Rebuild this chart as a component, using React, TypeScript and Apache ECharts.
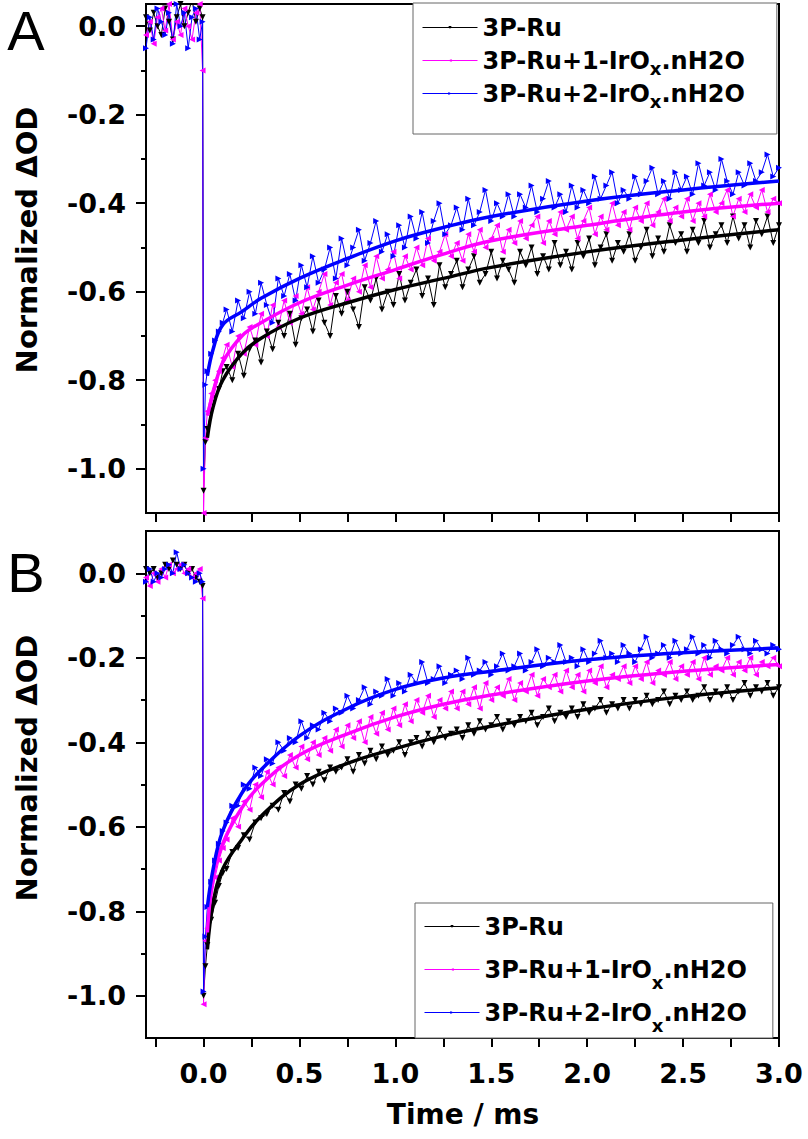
import React, { useEffect, useRef } from 'react';
import * as echarts from 'echarts';

// time grid (ms)
const TIME = [
  -0.30, -0.28, -0.26, -0.24, -0.22, -0.20, -0.18, -0.16, -0.14, -0.12, -0.10, -0.08, -0.06, -0.04, -0.02, -0.005,
  0, 0.01, 0.02, 0.04, 0.06, 0.08, 0.10,
  0.12, 0.15, 0.18, 0.21, 0.24, 0.27, 0.30, 0.33, 0.36, 0.39,
  0.42, 0.45, 0.48, 0.51, 0.54, 0.57, 0.60, 0.63, 0.66, 0.69,
  0.72, 0.75, 0.78, 0.81, 0.84, 0.87, 0.90, 0.93, 0.96, 0.99,
  1.02, 1.05, 1.08, 1.11, 1.14, 1.17, 1.20, 1.23, 1.26, 1.29,
  1.32, 1.35, 1.38, 1.41, 1.44, 1.47, 1.50, 1.53, 1.56, 1.59,
  1.62, 1.65, 1.68, 1.71, 1.74, 1.77, 1.80, 1.83, 1.86, 1.89,
  1.92, 1.95, 1.98, 2.01, 2.04, 2.07, 2.10, 2.13, 2.16, 2.19,
  2.22, 2.25, 2.28, 2.31, 2.34, 2.37, 2.40, 2.43, 2.46, 2.49,
  2.52, 2.55, 2.58, 2.61, 2.64, 2.67, 2.70, 2.73, 2.76, 2.79,
  2.82, 2.85, 2.88, 2.91, 2.94, 2.97, 3.00,
];

// Panel A raw data
const A_RU = [
  0.02, -0.01, 0.03, 0.00, -0.02, 0.04, 0.01, -0.03, 0.02, 0.05, 0.00, 0.03, 0.06, 0.01, 0.04, 0.02,
  -1.05, -0.94, -0.91, -0.87, -0.84, -0.82, -0.78,
  -0.77, -0.80, -0.74, -0.79, -0.73, -0.71, -0.76, -0.69, -0.73, -0.67,
  -0.70, -0.65, -0.72, -0.66, -0.64, -0.69, -0.62, -0.67, -0.70, -0.61,
  -0.65, -0.60, -0.64, -0.68, -0.59, -0.62, -0.57, -0.64, -0.60, -0.63,
  -0.56, -0.62, -0.58, -0.55, -0.61, -0.57, -0.63, -0.54, -0.59, -0.56,
  -0.53, -0.59, -0.55, -0.52, -0.58, -0.56, -0.51, -0.57, -0.53, -0.55,
  -0.58, -0.51, -0.54, -0.50, -0.56, -0.52, -0.55, -0.49, -0.54, -0.51,
  -0.55, -0.49, -0.52, -0.48, -0.54, -0.50, -0.47, -0.53, -0.49, -0.51,
  -0.47, -0.53, -0.50, -0.46, -0.52, -0.48, -0.51, -0.45, -0.49, -0.47,
  -0.51, -0.46, -0.49, -0.44, -0.50, -0.47, -0.45, -0.49, -0.43, -0.48,
  -0.45, -0.50, -0.44, -0.47, -0.43, -0.49, -0.45,
];
const A_RU1 = [
  -0.02, 0.01, -0.04, 0.02, 0.04, -0.01, 0.05, -0.03, 0.01, -0.02, 0.04, 0.00, -0.03, 0.03, 0.05, -0.10,
  -1.10, -0.93, -0.87, -0.83, -0.80, -0.78, -0.75,
  -0.72, -0.77, -0.70, -0.74, -0.68, -0.72, -0.65, -0.70, -0.63, -0.68,
  -0.62, -0.67, -0.61, -0.65, -0.59, -0.64, -0.60, -0.56, -0.63, -0.58,
  -0.56, -0.62, -0.57, -0.60, -0.54, -0.59, -0.52, -0.57, -0.55, -0.51,
  -0.57, -0.52, -0.55, -0.50, -0.54, -0.48, -0.53, -0.51, -0.47, -0.52,
  -0.49, -0.53, -0.47, -0.51, -0.46, -0.50, -0.48, -0.45, -0.51, -0.46,
  -0.49, -0.44, -0.48, -0.45, -0.43, -0.49, -0.44, -0.47, -0.42, -0.46,
  -0.43, -0.48, -0.44, -0.41, -0.47, -0.43, -0.46, -0.40, -0.45, -0.42,
  -0.46, -0.41, -0.44, -0.40, -0.45, -0.42, -0.39, -0.44, -0.41, -0.43,
  -0.39, -0.44, -0.40, -0.43, -0.38, -0.42, -0.40, -0.37, -0.43, -0.39,
  -0.42, -0.38, -0.41, -0.37, -0.42, -0.39, -0.40,
];
const A_RU2 = [
  -0.05, 0.02, -0.03, 0.04, 0.01, -0.02, 0.03, -0.04, 0.05, 0.00, 0.03, -0.05, 0.02, 0.04, -0.03, 0.01,
  -1.00, -0.81, -0.78, -0.74, -0.71, -0.69, -0.67,
  -0.64, -0.69, -0.62, -0.66, -0.60, -0.65, -0.58, -0.63, -0.67, -0.57,
  -0.61, -0.56, -0.62, -0.54, -0.59, -0.52, -0.58, -0.55, -0.50, -0.57,
  -0.48, -0.54, -0.50, -0.46, -0.53, -0.49, -0.44, -0.51, -0.47, -0.52,
  -0.45, -0.50, -0.43, -0.48, -0.42, -0.49, -0.44, -0.40, -0.47, -0.45,
  -0.41, -0.46, -0.39, -0.45, -0.42, -0.37, -0.44, -0.40, -0.43, -0.38,
  -0.43, -0.38, -0.41, -0.36, -0.42, -0.39, -0.35, -0.41, -0.38, -0.42,
  -0.36, -0.41, -0.37, -0.40, -0.34, -0.39, -0.36, -0.33, -0.40, -0.37,
  -0.39, -0.34, -0.38, -0.35, -0.32, -0.38, -0.35, -0.39, -0.33, -0.37,
  -0.34, -0.38, -0.31, -0.36, -0.33, -0.37, -0.30, -0.35, -0.38, -0.33,
  -0.36, -0.31, -0.35, -0.33, -0.29, -0.34, -0.32,
];

// Panel B raw data
const B_RU = [
  0.01, 0.00, 0.01, -0.01, 0.00, 0.02, 0.01, 0.03, 0.02, 0.01, 0.02, 0.00, 0.01, -0.01, -0.02, -0.03,
  -1.00, -0.93, -0.88, -0.82, -0.78, -0.74, -0.71,
  -0.70, -0.66, -0.65, -0.62, -0.63, -0.59, -0.58, -0.57, -0.55, -0.56,
  -0.52, -0.54, -0.50, -0.51, -0.48, -0.50, -0.47, -0.49, -0.46, -0.47,
  -0.46, -0.44, -0.47, -0.43, -0.45, -0.42, -0.44, -0.41, -0.43, -0.42,
  -0.40, -0.43, -0.40, -0.39, -0.41, -0.38, -0.40, -0.37, -0.39, -0.38,
  -0.37, -0.39, -0.36, -0.38, -0.35, -0.37, -0.36, -0.34, -0.37, -0.35,
  -0.36, -0.34, -0.35, -0.33, -0.36, -0.34, -0.32, -0.35, -0.33, -0.34,
  -0.32, -0.34, -0.31, -0.33, -0.32, -0.30, -0.33, -0.31, -0.32, -0.30,
  -0.32, -0.30, -0.31, -0.29, -0.31, -0.30, -0.28, -0.31, -0.29, -0.30,
  -0.28, -0.30, -0.29, -0.27, -0.30, -0.28, -0.29, -0.27, -0.30, -0.28,
  -0.26, -0.29, -0.27, -0.28, -0.26, -0.29, -0.27,
];
const B_RU1 = [
  -0.01, -0.03, 0.00, -0.02, 0.01, -0.01, 0.02, 0.00, 0.01, 0.02, 0.00, 0.01, -0.01, 0.00, 0.01, -0.06,
  -1.02, -0.87, -0.84, -0.77, -0.72, -0.68, -0.65,
  -0.63, -0.58, -0.60, -0.54, -0.56, -0.50, -0.53, -0.47, -0.50, -0.46,
  -0.48, -0.43, -0.46, -0.41, -0.44, -0.40, -0.43, -0.39, -0.42, -0.37,
  -0.41, -0.36, -0.39, -0.35, -0.40, -0.34, -0.38, -0.33, -0.37, -0.32,
  -0.36, -0.31, -0.35, -0.30, -0.33, -0.29, -0.34, -0.30, -0.32, -0.28,
  -0.32, -0.28, -0.31, -0.27, -0.32, -0.26, -0.30, -0.27, -0.29, -0.25,
  -0.30, -0.26, -0.28, -0.24, -0.29, -0.25, -0.27, -0.24, -0.28, -0.23,
  -0.27, -0.24, -0.28, -0.23, -0.26, -0.22, -0.27, -0.24, -0.25, -0.22,
  -0.26, -0.22, -0.25, -0.21, -0.26, -0.23, -0.24, -0.21, -0.25, -0.22,
  -0.24, -0.21, -0.25, -0.20, -0.24, -0.22, -0.23, -0.20, -0.24, -0.21,
  -0.23, -0.20, -0.24, -0.21, -0.22, -0.20, -0.22,
];
const B_RU2 = [
  -0.02, 0.01, -0.02, 0.00, -0.01, 0.01, 0.02, 0.00, 0.05, 0.01, 0.02, 0.00, -0.01, -0.02, 0.00, -0.02,
  -0.99, -0.86, -0.79, -0.73, -0.68, -0.64, -0.61,
  -0.59, -0.55, -0.55, -0.50, -0.51, -0.46, -0.48, -0.44, -0.45, -0.40,
  -0.42, -0.39, -0.40, -0.35, -0.39, -0.36, -0.37, -0.33, -0.35, -0.32,
  -0.33, -0.29, -0.32, -0.30, -0.27, -0.31, -0.28, -0.29, -0.25, -0.29,
  -0.26, -0.28, -0.24, -0.26, -0.21, -0.26, -0.25, -0.22, -0.26, -0.24,
  -0.23, -0.25, -0.20, -0.24, -0.23, -0.21, -0.24, -0.22, -0.19, -0.23,
  -0.22, -0.19, -0.23, -0.21, -0.18, -0.22, -0.20, -0.21, -0.17, -0.21,
  -0.20, -0.22, -0.18, -0.21, -0.19, -0.16, -0.20, -0.19, -0.21, -0.17,
  -0.19, -0.21, -0.18, -0.15, -0.20, -0.19, -0.17, -0.20, -0.16, -0.19,
  -0.18, -0.15, -0.19, -0.17, -0.20, -0.16, -0.18, -0.19, -0.17, -0.15,
  -0.18, -0.19, -0.16, -0.18, -0.19, -0.17, -0.18,
];

// fitted curves
const FIT_T = [0.02, 0.05, 0.1, 0.2, 0.3, 0.5, 0.75, 1.0, 1.25, 1.5, 2.0, 2.5, 3.0];
const FIT_A_RU = [-0.93, -0.86, -0.80, -0.74, -0.705, -0.66, -0.625, -0.595, -0.57, -0.545, -0.51, -0.483, -0.46];
const FIT_A_RU1 = [-0.88, -0.83, -0.76, -0.70, -0.67, -0.625, -0.585, -0.55, -0.515, -0.485, -0.45, -0.42, -0.40];
const FIT_A_RU2 = [-0.79, -0.73, -0.675, -0.645, -0.615, -0.57, -0.525, -0.485, -0.455, -0.43, -0.395, -0.37, -0.35];
const FIT_B_RU = [-0.89, -0.78, -0.70, -0.63, -0.575, -0.50, -0.45, -0.415, -0.385, -0.362, -0.322, -0.292, -0.271];
const FIT_B_RU1 = [-0.85, -0.72, -0.64, -0.555, -0.50, -0.43, -0.38, -0.34, -0.31, -0.288, -0.255, -0.232, -0.216];
const FIT_B_RU2 = [-0.79, -0.70, -0.61, -0.52, -0.465, -0.385, -0.32, -0.275, -0.248, -0.232, -0.205, -0.188, -0.177];

const SERIES_NAMES = ['3P-Ru', '3P-Ru+1-IrOx.nH2O', '3P-Ru+2-IrOx.nH2O'];
const COLORS = ['#000000', '#ff00ff', '#0000ff'];
const MARKER_ROTATE = [180, 90, -90];

const X_TICKS = [-0.25, 0, 0.25, 0.5, 0.75, 1.0, 1.25, 1.5, 1.75, 2.0, 2.25, 2.5, 2.75, 3.0];
const X_LABELS = [0, 0.5, 1.0, 1.5, 2.0, 2.5, 3.0];
const Y_LABELS = [0, -0.2, -0.4, -0.6, -0.8, -1.0];
const Y_MINOR = [-0.1, -0.3, -0.5, -0.7, -0.9];

const FONT = 'DejaVu Sans';

export default function App() {
  const ref = useRef<HTMLDivElement>(null);

  useEffect(() => {
    if (!ref.current) return;
    const chart = echarts.init(ref.current, undefined, { renderer: 'svg' });

    const axisLineStyle = { color: '#000', width: 2 };
    const labelStyle = { fontFamily: FONT, fontWeight: 'bold' as const, fontSize: 27, color: '#000' };

    const grids = [
      { left: 146, top: 4, width: 633, height: 509 },
      { left: 146, top: 531, width: 633, height: 507 },
    ].map((g) => ({ ...g, show: true, borderColor: '#000', borderWidth: 2, backgroundColor: 'transparent' }));

    const xAxis = [0, 1].map((p) => ({
      type: 'value',
      gridIndex: p,
      min: -0.3,
      max: 3.0,
      axisLine: { onZero: false, lineStyle: axisLineStyle },
      axisTick: { customValues: X_TICKS, length: 9, inside: false, lineStyle: axisLineStyle },
      axisLabel:
        p === 0
          ? { show: false }
          : { customValues: X_LABELS, formatter: (v: number) => v.toFixed(1), margin: 22, ...labelStyle },
      splitLine: { show: false },
    }));

    const yRanges = [
      [-1.1, 0.05],
      [-1.1, 0.1],
    ];
    const yAxis: any[] = [];
    [0, 1].forEach((p) => {
      yAxis.push({
        type: 'value',
        gridIndex: p,
        position: 'left',
        min: yRanges[p][0],
        max: yRanges[p][1],
        axisLine: { onZero: false, lineStyle: axisLineStyle },
        axisTick: { customValues: Y_LABELS, length: 10, lineStyle: axisLineStyle },
        axisLabel: { customValues: Y_LABELS, formatter: (v: number) => v.toFixed(1), margin: 20, ...labelStyle },
        splitLine: { show: false },
      });
      yAxis.push({
        type: 'value',
        gridIndex: p,
        position: 'left',
        min: yRanges[p][0],
        max: yRanges[p][1],
        axisLine: { show: false, onZero: false },
        axisTick: { customValues: Y_MINOR, length: 5, lineStyle: axisLineStyle },
        axisLabel: { show: false },
        splitLine: { show: false },
      });
    });

    const raw = [
      [A_RU, A_RU1, A_RU2],
      [B_RU, B_RU1, B_RU2],
    ];
    const fits = [
      [FIT_A_RU, FIT_A_RU1, FIT_A_RU2],
      [FIT_B_RU, FIT_B_RU1, FIT_B_RU2],
    ];

    const series: any[] = [];
    [0, 1].forEach((p) => {
      [0, 1, 2].forEach((i) => {
        series.push({
          type: 'line',
          name: SERIES_NAMES[i],
          xAxisIndex: p,
          yAxisIndex: p * 2,
          data: TIME.map((t, k) => [t, raw[p][i][k]]),
          symbol: 'triangle',
          symbolSize: 6,
          symbolRotate: MARKER_ROTATE[i],
          showSymbol: true,
          lineStyle: { width: 1, color: COLORS[i] },
          itemStyle: { color: COLORS[i] },
          z: 2,
        });
      });
      [0, 1, 2].forEach((i) => {
        series.push({
          type: 'line',
          name: 'fit-' + p + '-' + i,
          xAxisIndex: p,
          yAxisIndex: p * 2,
          data: FIT_T.map((t, k) => [t, fits[p][i][k]]),
          symbol: 'none',
          smooth: 0.4,
          lineStyle: { width: 3.5, color: COLORS[i] },
          itemStyle: { color: COLORS[i] },
          z: 3,
        });
      });
    });

    const legendText = (lh: number) => ({
      fontFamily: FONT,
      fontWeight: 'bold' as const,
      fontSize: 24,
      color: '#000',
      lineHeight: lh,
      rich: {
        sub: { fontFamily: FONT, fontWeight: 'bold' as const, fontSize: 18, lineHeight: 4, verticalAlign: 'bottom', color: '#000' },
      },
    });
    const legendBase = {
      data: SERIES_NAMES,
      orient: 'vertical',
      itemGap: 0,
      itemWidth: 55,
      itemHeight: 4,
      lineStyle: { width: 1 },
      borderColor: '#666',
      borderWidth: 1,
      backgroundColor: '#fff',
      selectedMode: false,
      formatter: (name: string) => name.replace('IrOx', 'IrO{sub|x}'),
    };

    chart.setOption({
      animation: false,
      backgroundColor: '#fff',
      grid: grids,
      xAxis,
      yAxis,
      series,
      legend: [
        { ...legendBase, left: 413, top: 3, padding: [8, 32, 24, 9], textStyle: legendText(33) },
        { ...legendBase, left: 415, top: 903, padding: [2, 26, 4, 9], textStyle: legendText(43) },
      ],
      graphic: [
        { type: 'text', x: 26, y: 30, style: { text: 'A', fontFamily: 'Liberation Sans', fontSize: 56, fill: '#000', align: 'center', verticalAlign: 'middle' } },
        { type: 'text', x: 26, y: 572, style: { text: 'B', fontFamily: 'Liberation Sans', fontSize: 56, fill: '#000', align: 'center', verticalAlign: 'middle' } },
        { type: 'text', x: 27, y: 240, rotation: Math.PI / 2, style: { text: 'Normalized ΔOD', fontFamily: FONT, fontWeight: 'bold', fontSize: 29, fill: '#000', align: 'center', verticalAlign: 'middle' } },
        { type: 'text', x: 27, y: 768, rotation: Math.PI / 2, style: { text: 'Normalized ΔOD', fontFamily: FONT, fontWeight: 'bold', fontSize: 29, fill: '#000', align: 'center', verticalAlign: 'middle' } },
        { type: 'text', x: 463, y: 1114, style: { text: 'Time / ms', fontFamily: FONT, fontWeight: 'bold', fontSize: 28, fill: '#000', align: 'center', verticalAlign: 'middle' } },
      ],
    });

    return () => chart.dispose();
  }, []);

  return <div ref={ref} style={{ position: 'absolute', left: 0, top: 0, width: 808, height: 1139 }} />;
}
